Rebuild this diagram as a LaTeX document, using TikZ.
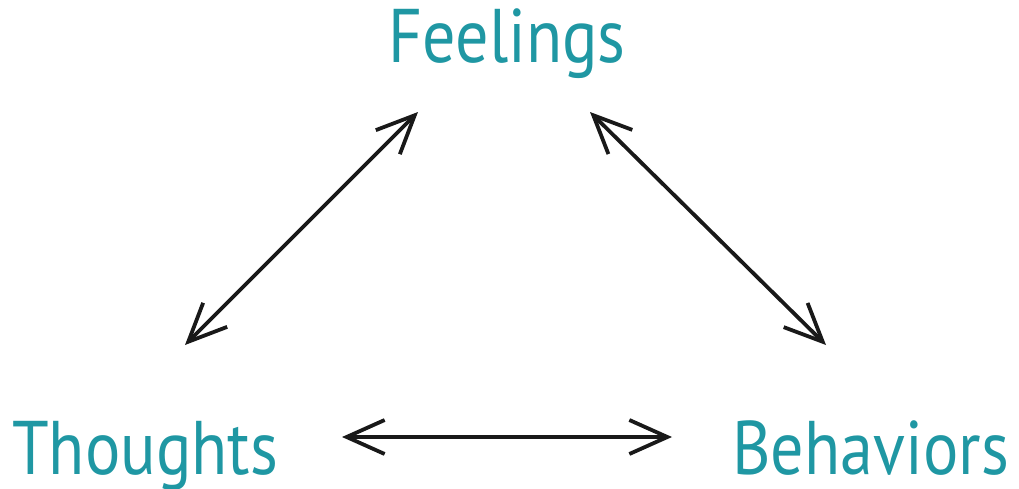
\documentclass[tikz,border=0pt]{standalone}
\usepackage{fontspec}
\setmainfont{PT Sans}
\usetikzlibrary{arrows.meta}
\definecolor{teal1}{HTML}{1F97A3}
\tikzset{
  label/.style={text=teal1, font=\fontsize{76}{86}\selectfont, inner sep=0pt, anchor=base, xscale=0.87},
  link/.style={line width=3.8pt, black!90, {Straight Barb[length=38pt,width=34pt,line width=3.8pt]}-{Straight Barb[length=38pt,width=34pt,line width=3.8pt]}}
}
\begin{document}
\begin{tikzpicture}[x=1pt,y=-1pt]
\useasboundingbox (0,0) rectangle (1019,488);
\node[label] (feel) at (507,62) {Feelings};
\node[label, anchor=base west] (thou) at (12,474) {Thoughts};
\node[label, anchor=base east] (beh) at (1009,474) {Behaviors};
\coordinate (fl) at (418,112);
\coordinate (tl) at (185,345);
\coordinate (fr) at (590,112);
\coordinate (br) at (826,345);
\coordinate (tb1) at (342,437);
\coordinate (tb2) at (672,437);
\draw[link] (tl) -- (fl);
\draw[link] (fr) -- (br);
\draw[link] (tb1) -- (tb2);
\end{tikzpicture}
\end{document}
